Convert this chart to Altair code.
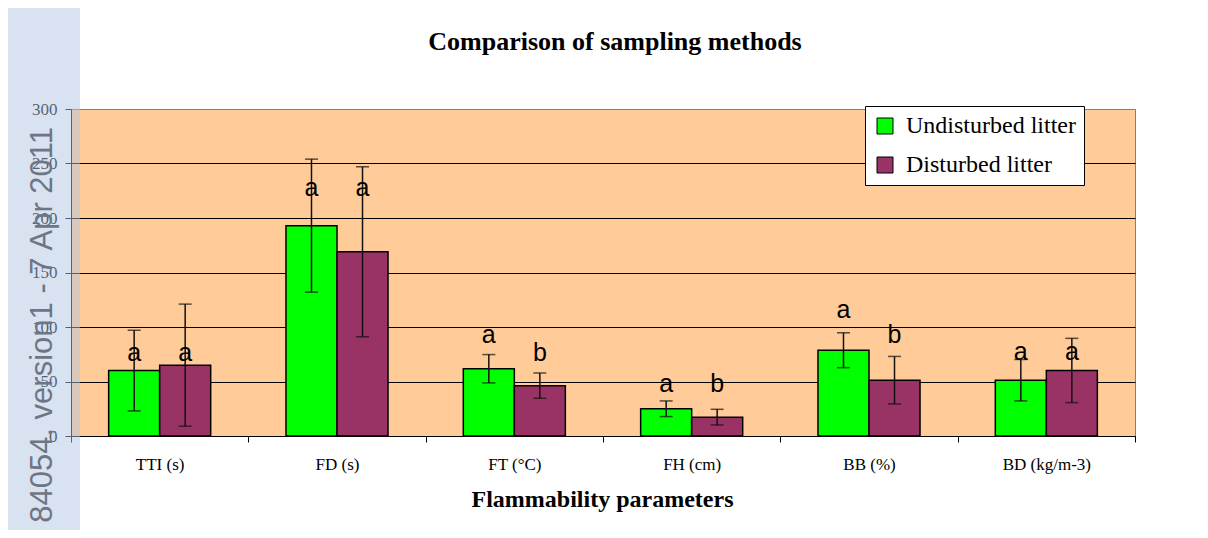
import altair as alt
import pandas as pd

params = ["TTI (s)", "FD (s)", "FT (°C)", "FH (cm)", "BB (%)", "BD (kg/m-3)"]
series = ["Undisturbed litter", "Disturbed litter"]
colors = ["#00FF00", "#993366"]

undisturbed_mean = [60, 193, 61.7, 25, 78.7, 51.2]
undisturbed_err = [37, 61, 13, 7.2, 16, 19]
disturbed_mean = [65, 169, 46.2, 17.3, 51.2, 60.1]
disturbed_err = [56, 78, 11.6, 7.2, 21.8, 29.5]

undisturbed_letter = ["a", "a", "a", "a", "a", "a"]
disturbed_letter = ["a", "a", "b", "b", "b", "a"]
undisturbed_letter_y = [69, 220, 85, 40, 108, 70]
disturbed_letter_y = [69, 220, 69, 40, 85, 70]

title_text = ["Comparison of sampling methods"]
x_title = "Flammability parameters"
watermark = ["84054, version1 - 7 Apr 2011"]
y_ticks = [0, 50, 100, 150, 200, 250, 300]

rows = []
for i, p in enumerate(params):
    for s, m, e, l, ly in [
        (series[0], undisturbed_mean, undisturbed_err, undisturbed_letter, undisturbed_letter_y),
        (series[1], disturbed_mean, disturbed_err, disturbed_letter, disturbed_letter_y),
    ]:
        rows.append({"param": p, "litter": s, "mean": m[i], "lo": m[i] - e[i],
                     "hi": m[i] + e[i], "letter": l[i], "letter_y": ly[i]})
df = pd.DataFrame(rows)

W, H = 1064, 327

x_enc = alt.X("param:N", sort=params,
              scale=alt.Scale(paddingInner=0, paddingOuter=0),
              axis=alt.Axis(title=x_title, labelAngle=0, labelFont="Liberation Serif",
                            labelFontSize=17, labelColor="black", labelPadding=14,
                            tickBand="extent", tickColor="black", tickSize=6,
                            domainColor="black", domainWidth=1,
                            titleFont="Liberation Serif", titleFontSize=24,
                            titleFontWeight="bold", titleColor="black",
                            titleX=531, titleY=70, titleBaseline="alphabetic",
                            titleAlign="center"))
xoff = alt.XOffset("litter:N", sort=series,
                   scale=alt.Scale(paddingInner=0, paddingOuter=0.738))
y_enc = alt.Y("mean:Q", scale=alt.Scale(domain=[0, 300], nice=False),
              axis=alt.Axis(title=None, values=y_ticks, grid=True,
                            gridColor=alt.ExprRef(expr="datum.value == 300 ? '#808080' : '#000000'"),
                            gridWidth=1, labelFont="Liberation Serif", labelFontSize=17,
                            labelColor="black", labelPadding=8, tickColor="black",
                            tickSize=6, domainColor="black"))
color_enc = alt.Color("litter:N", sort=series,
                      scale=alt.Scale(domain=series, range=colors),
                      legend=alt.Legend(title=None, orient="none", legendX=794, legendY=-3,
                                        fillColor="white", strokeColor="black", padding=8,
                                        labelFont="Liberation Serif", labelFontSize=24,
                                        labelColor="black", labelLimit=0, symbolType="square",
                                        symbolSize=256, symbolStrokeColor="black",
                                        symbolStrokeWidth=1, rowPadding=15, labelOffset=9))

base = alt.Chart(df)

bars = base.mark_bar(stroke="black", strokeWidth=1.5).encode(
    x=x_enc, xOffset=xoff, y=y_enc, color=color_enc)

err = base.mark_rule(color="#111111", strokeWidth=1.5).encode(
    x=alt.X("param:N", sort=params), xOffset=xoff, y="lo:Q", y2="hi:Q")
cap_lo = base.mark_tick(color="#111111", thickness=1.5, size=13, orient="horizontal").encode(
    x=alt.X("param:N", sort=params), xOffset=xoff, y="lo:Q")
cap_hi = base.mark_tick(color="#111111", thickness=1.5, size=13, orient="horizontal").encode(
    x=alt.X("param:N", sort=params), xOffset=xoff, y="hi:Q")

letters = base.mark_text(font="Liberation Sans", fontSize=25, color="black",
                         baseline="alphabetic", align="center").encode(
    x=alt.X("param:N", sort=params), xOffset=xoff, y="letter_y:Q", text="letter:N")

one = pd.DataFrame({"t": title_text})
strip = alt.Chart(one).mark_rect(color="#B1C4E0", opacity=0.49).encode(
    x=alt.value(-71), x2=alt.value(9), y=alt.value(-102), y2=alt.value(430))

wm = alt.Chart(pd.DataFrame({"t": watermark})).mark_text(
    font="Liberation Sans", fontSize=31, color="#6E7686", angle=270,
    align="right", baseline="alphabetic").encode(
    text="t:N", x=alt.value(-19), y=alt.value(18))

title = alt.Chart(one).mark_text(
    font="Liberation Serif", fontSize=26, fontWeight="bold", color="black",
    align="center", baseline="alphabetic").encode(
    text="t:N", x=alt.value(544), y=alt.value(-59))

chart = alt.layer(bars, err, cap_lo, cap_hi, letters, strip, wm, title).properties(
    width=W, height=H,
    autosize=alt.AutoSizeParams(type="none"),
    padding={"left": 63, "top": 101, "right": 65, "bottom": 94},
).configure_view(fill="#FFCC99", stroke="#808080", strokeWidth=1)

chart.save("out.html", embed_options={"renderer": "svg", "actions": False})
